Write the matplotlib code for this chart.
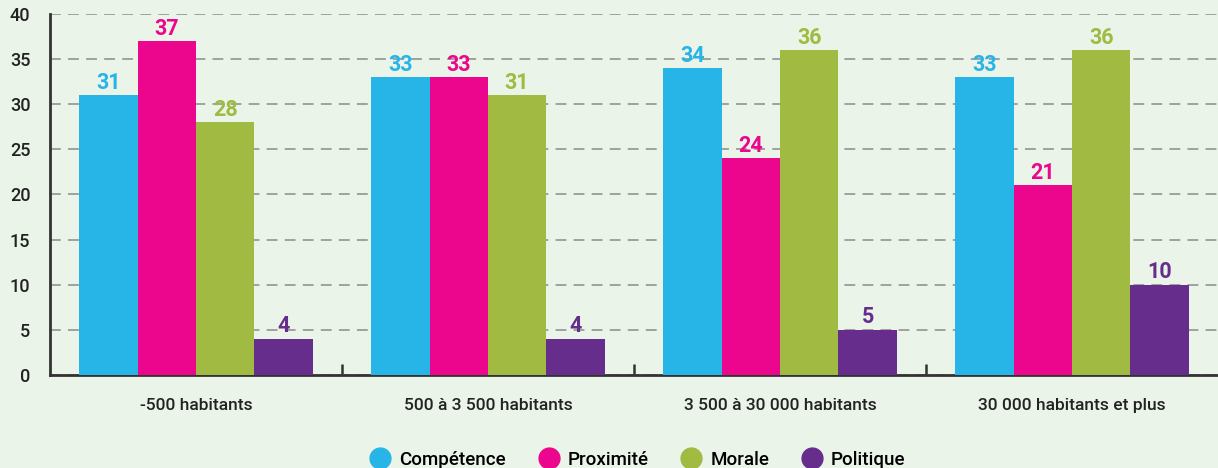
import numpy as np
import matplotlib
matplotlib.use("Agg")
from matplotlib import pyplot as plt
from matplotlib.lines import Line2D

categories = ["-500 habitants", "500 à 3 500 habitants",
              "3 500 à 30 000 habitants", "30 000 habitants et plus"]
series = ["Compétence", "Proximité", "Morale", "Politique"]
competence = [31, 33, 34, 33]
proximite = [37, 33, 24, 21]
morale = [28, 31, 36, 36]
politique = [4, 4, 5, 10]
colors = ["#27b5e8", "#ec068d", "#a0ba42", "#662d8c"]
bg = "#eaf4e8"

plt.rcParams['font.family'] = ['Roboto', 'DejaVu Sans']

fig = plt.figure(figsize=(12.18, 4.68), dpi=100, facecolor=bg)
ax = fig.add_axes([0.041, 0.199, 0.959, 0.771])
ax.set_facecolor(bg)

x = np.arange(len(categories))
w = 0.2
for i, vals in enumerate([competence, proximite, morale, politique]):
    pos = x + (i - 1.5) * w
    ax.bar(pos, vals, width=w, color=colors[i], zorder=3)
    for p, v in zip(pos, vals):
        ax.text(p, v + 0.15, str(v), ha='center', va='bottom', color=colors[i],
                fontsize=15.5, fontweight='bold', zorder=4)

ax.set_xlim(-0.5, 3.5)
ax.set_ylim(0, 40)
ax.set_yticks(range(0, 41, 5))
ax.yaxis.grid(True, linestyle=(0, (6, 4)), color='#9a9a9a', linewidth=1.3, zorder=0)
ax.set_axisbelow(True)

ax.set_xticks(x)
ax.set_xticklabels(categories, fontsize=12.5, color='#222222', fontweight='medium')
ax.tick_params(axis='x', length=0, pad=17)
ax.set_xticks([0.5, 1.5, 2.5], minor=True)
ax.tick_params(axis='x', which='minor', direction='in', length=8, width=1.8, color='#333333')
ax.tick_params(axis='y', length=0, pad=14, labelsize=13, labelcolor='#222222')
for lab in ax.get_yticklabels():
    lab.set_fontweight('medium')

for s in ['top', 'right']:
    ax.spines[s].set_visible(False)
ax.spines['left'].set_color('#333333')
ax.spines['left'].set_linewidth(2)
ax.spines['bottom'].set_color('#333333')
ax.spines['bottom'].set_linewidth(2)

handles = [Line2D([0], [0], marker='o', linestyle='', markersize=15,
                  markerfacecolor=c, markeredgecolor=c) for c in colors]
fig.legend(handles, series, loc='lower center', bbox_to_anchor=(0.52, -0.038),
           ncol=4, frameon=False, prop={'size': 13.5, 'weight': 'medium'},
           handletextpad=0.0, columnspacing=1.3)

fig.savefig("out.png", dpi=100, facecolor=bg)
